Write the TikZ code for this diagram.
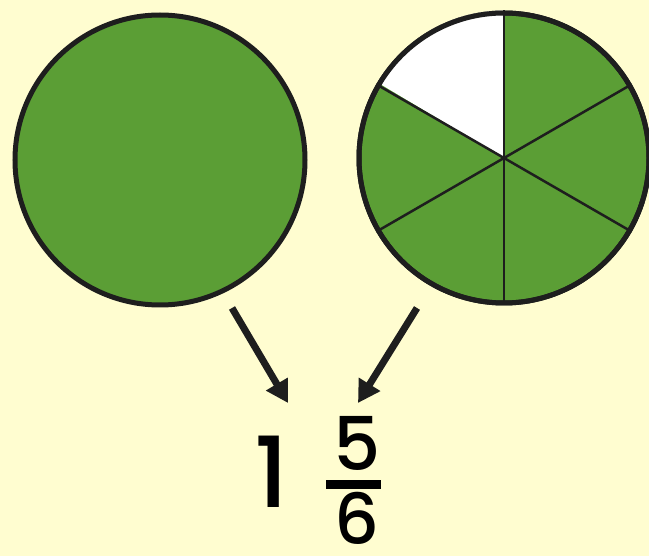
\documentclass[tikz,border=0pt]{standalone}
\usepackage{fontspec}
\newfontfamily\numfont{Poppins Medium}
\usetikzlibrary{positioning, arrows.meta}
\definecolor{paper}{RGB}{255,253,208}
\definecolor{leaf}{RGB}{91,158,53}
\definecolor{ink}{RGB}{30,30,30}
\tikzset{
    pie/.style={circle, draw=ink, fill=leaf, line width=5pt, inner sep=0pt, minimum size=290pt},
    spoke/.style={draw=ink, line width=2.5pt},
    pointer/.style={draw=ink, line width=7pt, -{Triangle[width=24pt,length=22pt]}},
    digit/.style={inner sep=0pt},
}
\begin{document}
\begin{tikzpicture}[x=1pt, y=-1pt]
  \useasboundingbox[fill=paper] (0,0) rectangle (649,556);

  \node[pie] (whole) at (160,160) {};
  \node[pie] (part) at (504,158) {};
  % the missing sixth
  \fill[white] (part.center) -- (part.90) arc[start angle=90, end angle=150, radius=145pt] -- cycle;
  \foreach \a in {90,30,-30,-90,-150,150}
    \draw[spoke] (part.center) -- (part.\a);
  \draw[draw=ink, line width=5pt] (part) circle[radius=145pt];

  \node[digit, font=\numfont\fontsize{98}{98}\selectfont] (one) at (272,472) {1};
  \node[digit, font=\numfont\fontsize{74}{74}\selectfont] (num) at (357,443) {5};
  \node[digit, font=\numfont\fontsize{70}{70}\selectfont] (den) at (357,518) {6};
  \coordinate (barL) at (326,485);
  \coordinate (barR) at (381,485);
  \draw[draw=black, line width=9pt] (barL) -- (barR);

  \coordinate (w1) at (232,308);
  \coordinate (w2) at (288,403);
  \coordinate (p1) at (417,308);
  \coordinate (p2) at (358,403);
  \draw[pointer] (w1) -- (w2);
  \draw[pointer] (p1) -- (p2);
\end{tikzpicture}
\end{document}
